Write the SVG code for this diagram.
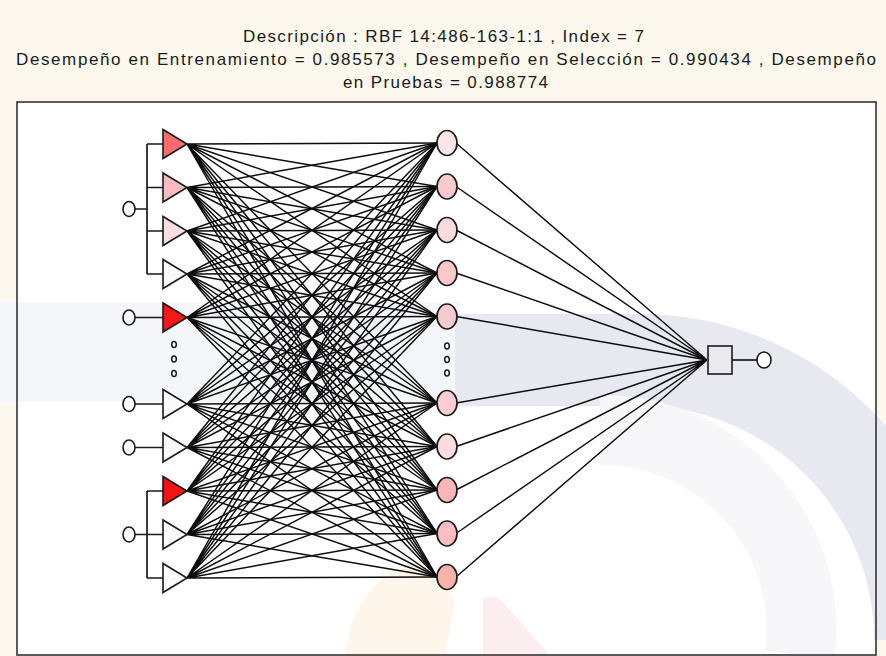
<svg xmlns="http://www.w3.org/2000/svg" width="886" height="656" viewBox="0 0 886 656">
<style>
.t{font-family:"Liberation Sans",Arial,sans-serif;font-size:17px;fill:#1a1a1a;text-anchor:middle}
.tri{stroke:#1a1a1a;stroke-width:1.6;stroke-linejoin:miter}
.hid{stroke:#1a1a1a;stroke-width:1.7}
.io{fill:#fff;stroke:#1a1a1a;stroke-width:1.6}
.dot{fill:#fff;stroke:#1a1a1a;stroke-width:1.5}
.w{fill:none;stroke:#0d0d0d;stroke-width:1.45}
.br{fill:none;stroke:#1a1a1a;stroke-width:1.7}
</style>
<rect x="0" y="0" width="886" height="656" fill="#fdf8ee"/>
<rect x="17" y="102" width="859" height="553" fill="#fff"/>
<g id="watermark">
<rect x="0" y="302" width="460" height="100" fill="#f5f6f9"/>
<rect x="455" y="314" width="190" height="92" fill="#e8e9f0"/>
<path d="M640 360A280 280 0 0 1 920 640" fill="none" stroke="#e8e9f0" stroke-width="92"/>
<path d="M600 430A200 200 0 0 1 800 655" fill="none" stroke="#f7f7fa" stroke-width="70"/>
<path d="M345 656C350 600 385 565 425 562L455 600L445 656Z" fill="#fef6ea"/>
<path d="M483 597L498 597L550 656L483 656Z" fill="#fcedf0"/>
</g>
<rect x="17" y="102" width="859" height="553" fill="none" stroke="#333" stroke-width="1.6"/>
<g id="title">
<text class="t" x="443.5" y="41.5" textLength="401" lengthAdjust="spacing">Descripción : RBF 14:486-163-1:1 ,  Index = 7</text>
<text class="t" x="446" y="65" textLength="860" lengthAdjust="spacing">Desempeño en Entrenamiento = 0.985573 ,  Desempeño en Selección = 0.990434 ,  Desempeño</text>
<text class="t" x="445.5" y="88" textLength="205" lengthAdjust="spacing">en Pruebas = 0.988774</text>
</g>
<g id="connectors">
<path class="br" d="M147 144V274M147 144H163M147 187.5H163M147 231H163M147 274H163M135 209H147"/>
<path class="br" d="M135 317.5H163M135 404H163M135 447.5H163"/>
<path class="br" d="M147 491V578M147 491H163M135 534.5H163M147 578H163"/>
<path class="w" d="M187 144L437 143M187 144L437 186.5M187 144L437 230M187 144L437 273M187 144L437 316.5M187 144L437 403M187 144L437 446.5M187 144L437 490M187 144L437 533.5M187 144L437 577"/>
<path class="w" d="M187 187.5L437 143M187 187.5L437 186.5M187 187.5L437 230M187 187.5L437 273M187 187.5L437 316.5M187 187.5L437 403M187 187.5L437 446.5M187 187.5L437 490M187 187.5L437 533.5M187 187.5L437 577"/>
<path class="w" d="M187 231L437 143M187 231L437 186.5M187 231L437 230M187 231L437 273M187 231L437 316.5M187 231L437 403M187 231L437 446.5M187 231L437 490M187 231L437 533.5M187 231L437 577"/>
<path class="w" d="M187 274L437 143M187 274L437 186.5M187 274L437 230M187 274L437 273M187 274L437 316.5M187 274L437 403M187 274L437 446.5M187 274L437 490M187 274L437 533.5M187 274L437 577"/>
<path class="w" d="M187 317.5L437 143M187 317.5L437 186.5M187 317.5L437 230M187 317.5L437 273M187 317.5L437 316.5M187 317.5L437 403M187 317.5L437 446.5M187 317.5L437 490M187 317.5L437 533.5M187 317.5L437 577"/>
<path class="w" d="M187 404L437 143M187 404L437 186.5M187 404L437 230M187 404L437 273M187 404L437 316.5M187 404L437 403M187 404L437 446.5M187 404L437 490M187 404L437 533.5M187 404L437 577"/>
<path class="w" d="M187 447.5L437 143M187 447.5L437 186.5M187 447.5L437 230M187 447.5L437 273M187 447.5L437 316.5M187 447.5L437 403M187 447.5L437 446.5M187 447.5L437 490M187 447.5L437 533.5M187 447.5L437 577"/>
<path class="w" d="M187 491L437 143M187 491L437 186.5M187 491L437 230M187 491L437 273M187 491L437 316.5M187 491L437 403M187 491L437 446.5M187 491L437 490M187 491L437 533.5M187 491L437 577"/>
<path class="w" d="M187 534.5L437 143M187 534.5L437 186.5M187 534.5L437 230M187 534.5L437 273M187 534.5L437 316.5M187 534.5L437 403M187 534.5L437 446.5M187 534.5L437 490M187 534.5L437 533.5M187 534.5L437 577"/>
<path class="w" d="M187 578L437 143M187 578L437 186.5M187 578L437 230M187 578L437 273M187 578L437 316.5M187 578L437 403M187 578L437 446.5M187 578L437 490M187 578L437 533.5M187 578L437 577"/>
<path class="w" d="M456 143L707 360M456 186.5L707 360M456 230L707 360M456 273L707 360M456 316.5L707 360M456 403L707 360M456 446.5L707 360M456 490L707 360M456 533.5L707 360M456 577L707 360"/>
<path class="br" d="M732 360H757"/>
</g>
<g id="inputs">
<ellipse id="in-a" class="io" cx="129" cy="209" rx="6" ry="7.5"/>
<ellipse id="in-b" class="io" cx="129" cy="317.5" rx="6" ry="7.5"/>
<ellipse id="in-c" class="io" cx="129" cy="404" rx="6" ry="7.5"/>
<ellipse id="in-d" class="io" cx="129" cy="447.5" rx="6" ry="7.5"/>
<ellipse id="in-e" class="io" cx="129" cy="534.5" rx="6" ry="7.5"/>
</g>
<g id="scaling">
<polygon id="s0" class="tri" fill="#f86c6c" points="163,129.5 163,158.5 187,144"/>
<polygon id="s1" class="tri" fill="#fabcc0" points="163,173 163,202 187,187.5"/>
<polygon id="s2" class="tri" fill="#fddde1" points="163,216.5 163,245.5 187,231"/>
<polygon id="s3" class="tri" fill="#f9f9fb" points="163,259.5 163,288.5 187,274"/>
<polygon id="s4" class="tri" fill="#f51818" points="163,303 163,332 187,317.5"/>
<polygon id="s5" class="tri" fill="#f9f9fb" points="163,389.5 163,418.5 187,404"/>
<polygon id="s6" class="tri" fill="#f9f9fb" points="163,433 163,462 187,447.5"/>
<polygon id="s7" class="tri" fill="#f51414" points="163,476.5 163,505.5 187,491"/>
<polygon id="s8" class="tri" fill="#fafafa" points="163,520 163,549 187,534.5"/>
<polygon id="s9" class="tri" fill="#fafafa" points="163,563.5 163,592.5 187,578"/>
<ellipse class="dot" cx="174" cy="344.5" rx="2.3" ry="3"/>
<ellipse class="dot" cx="174" cy="359" rx="2.3" ry="3"/>
<ellipse class="dot" cx="174" cy="373.5" rx="2.3" ry="3"/>
</g>
<g id="hidden">
<ellipse id="h0" class="hid" fill="#fde4e7" cx="447" cy="143" rx="10" ry="12.5"/>
<ellipse id="h1" class="hid" fill="#fbcacd" cx="447" cy="186.5" rx="10" ry="12.5"/>
<ellipse id="h2" class="hid" fill="#fcdadd" cx="447" cy="230" rx="10" ry="12.5"/>
<ellipse id="h3" class="hid" fill="#fbc8cb" cx="447" cy="273" rx="10" ry="12.5"/>
<ellipse id="h4" class="hid" fill="#f4cbcf" cx="447" cy="316.5" rx="10" ry="12.5"/>
<ellipse id="h5" class="hid" fill="#f9cdd1" cx="447" cy="403" rx="10" ry="12.5"/>
<ellipse id="h6" class="hid" fill="#fcdcdf" cx="447" cy="446.5" rx="10" ry="12.5"/>
<ellipse id="h7" class="hid" fill="#fbb6ba" cx="447" cy="490" rx="10" ry="12.5"/>
<ellipse id="h8" class="hid" fill="#fbbdc2" cx="447" cy="533.5" rx="10" ry="12.5"/>
<ellipse id="h9" class="hid" fill="#f9b3a8" cx="447" cy="577" rx="10" ry="12.5"/>
<ellipse class="dot" cx="447" cy="346" rx="2.3" ry="3"/>
<ellipse class="dot" cx="447" cy="359.5" rx="2.3" ry="3"/>
<ellipse class="dot" cx="447" cy="373" rx="2.3" ry="3"/>
</g>
<g id="output">
<rect id="out-node" x="708" y="346" width="24" height="28" fill="#e9e9ef" stroke="#1a1a1a" stroke-width="1.6"/>
<ellipse id="out" class="io" cx="764" cy="360" rx="7" ry="8"/>
</g>
</svg>
